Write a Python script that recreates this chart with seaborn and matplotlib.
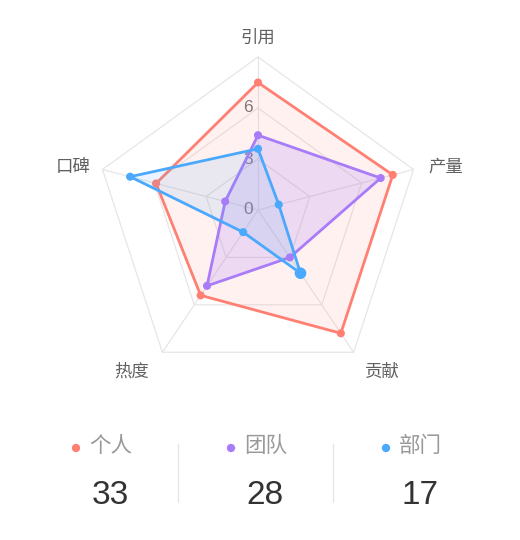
import numpy as np
import pandas as pd
import matplotlib
matplotlib.use("Agg")
import matplotlib.pyplot as plt
import seaborn as sns

# ── data ──────────────────────────────────────────────────────────────────────
INDICATORS = ["引用", "产量", "贡献", "热度", "口碑"]
PERSONAL   = [7.5, 7.8, 7.8, 5.4, 5.9]
TEAM       = [4.4, 7.1, 3.0, 4.8, 1.9]
DEPT       = [3.6, 1.2, 4.0, 1.4, 7.4]
SERIES     = ["个人", "团队", "部门"]
TOTALS     = [33, 28, 17]
RING_TICKS = [0, 3, 6]
MAX_VAL    = 9

COLORS = ["#FF7F73", "#A87CF9", "#4AA9FD"]
FILL_A = [0.10, 0.20, 0.12]

# ── layout (pixel space, y down) ──────────────────────────────────────────────
CX, CY = 258, 210
# spoke angle from vertical (deg, clockwise) and length at MAX_VAL
SPOKE_ANG = [0.0, 75.4, 146.1, 213.9, 284.6]
SPOKE_LEN = [153, 160.7, 171.4, 171.4, 160.7]
LABEL_POS = [(258, 38), (446, 167), (382, 372), (132, 372), (73, 167)]

sns.set_theme(style="white")
plt.rcParams["font.family"] = ["Noto Sans CJK SC", "DejaVu Sans"]
NUM_FONT = ["Liberation Sans", "DejaVu Sans"]


def to_xy(vals):
    a = np.radians(SPOKE_ANG)
    r = np.array(vals, dtype=float) / MAX_VAL * np.array(SPOKE_LEN)
    return CX + r * np.sin(a), CY - r * np.cos(a)


fig = plt.figure(figsize=(5.2, 5.4), dpi=100)
ax = fig.add_axes([0, 0, 1, 1])
ax.set_xlim(0, 520)
ax.set_ylim(540, 0)
ax.axis("off")

# grid rings + spokes
GRID = "#E6E6E6"
for lvl in [3, 6, 9]:
    gx, gy = to_xy([lvl] * 5)
    ax.plot(np.append(gx, gx[0]), np.append(gy, gy[0]), color=GRID, lw=0.9, zorder=1)
ox, oy = to_xy([MAX_VAL] * 5)
for x, y in zip(ox, oy):
    ax.plot([CX, x], [CY, y], color=GRID, lw=0.9, zorder=1)

# ring values sit under the series, as in the reference
for t in RING_TICKS:
    ty = CY - t / MAX_VAL * SPOKE_LEN[0]
    ax.text(CX - 5, ty, str(t), ha="right", va="center", fontsize=12.5,
            color="#777777", family=NUM_FONT, zorder=1.5)

for lab, (lx, ly) in zip(INDICATORS, LABEL_POS):
    ax.text(lx, ly, lab, ha="center", va="center", fontsize=12.5, color="#606060")

# series
for i, (vals, col) in enumerate(zip([PERSONAL, TEAM, DEPT], COLORS)):
    x, y = to_xy(vals)
    ax.fill(x, y, color=col, alpha=FILL_A[i], lw=0, zorder=2 + i)
    df = pd.DataFrame({"x": np.append(x, x[0]), "y": np.append(y, y[0])})
    sns.lineplot(data=df, x="x", y="y", sort=False, estimator=None,
                 color=col, lw=2.0, ax=ax, zorder=3 + i)
    sizes = [34] * 5
    if i == 2:
        sizes[2] = 70
    ax.scatter(x, y, s=sizes, color=col, edgecolor="none", zorder=4 + i)

ax.set_xlim(0, 520)
ax.set_ylim(540, 0)
ax.set_xlabel("")
ax.set_ylabel("")

# bottom summary
COL_X = [110, 265, 420]
for name, total, col, cx in zip(SERIES, TOTALS, COLORS, COL_X):
    ax.scatter([cx - 34], [448], s=36, color=col, edgecolor="none")
    ax.text(cx - 21, 446, name, ha="left", va="center", fontsize=15.5, color="#999999")
    ax.text(cx, 495, str(total), ha="center", va="center", fontsize=24,
            color="#333333", family=NUM_FONT)
for sx in [178, 333]:
    ax.plot([sx, sx], [444, 502], color="#E6E6E6", lw=1)

fig.savefig("out.png", dpi=100)
